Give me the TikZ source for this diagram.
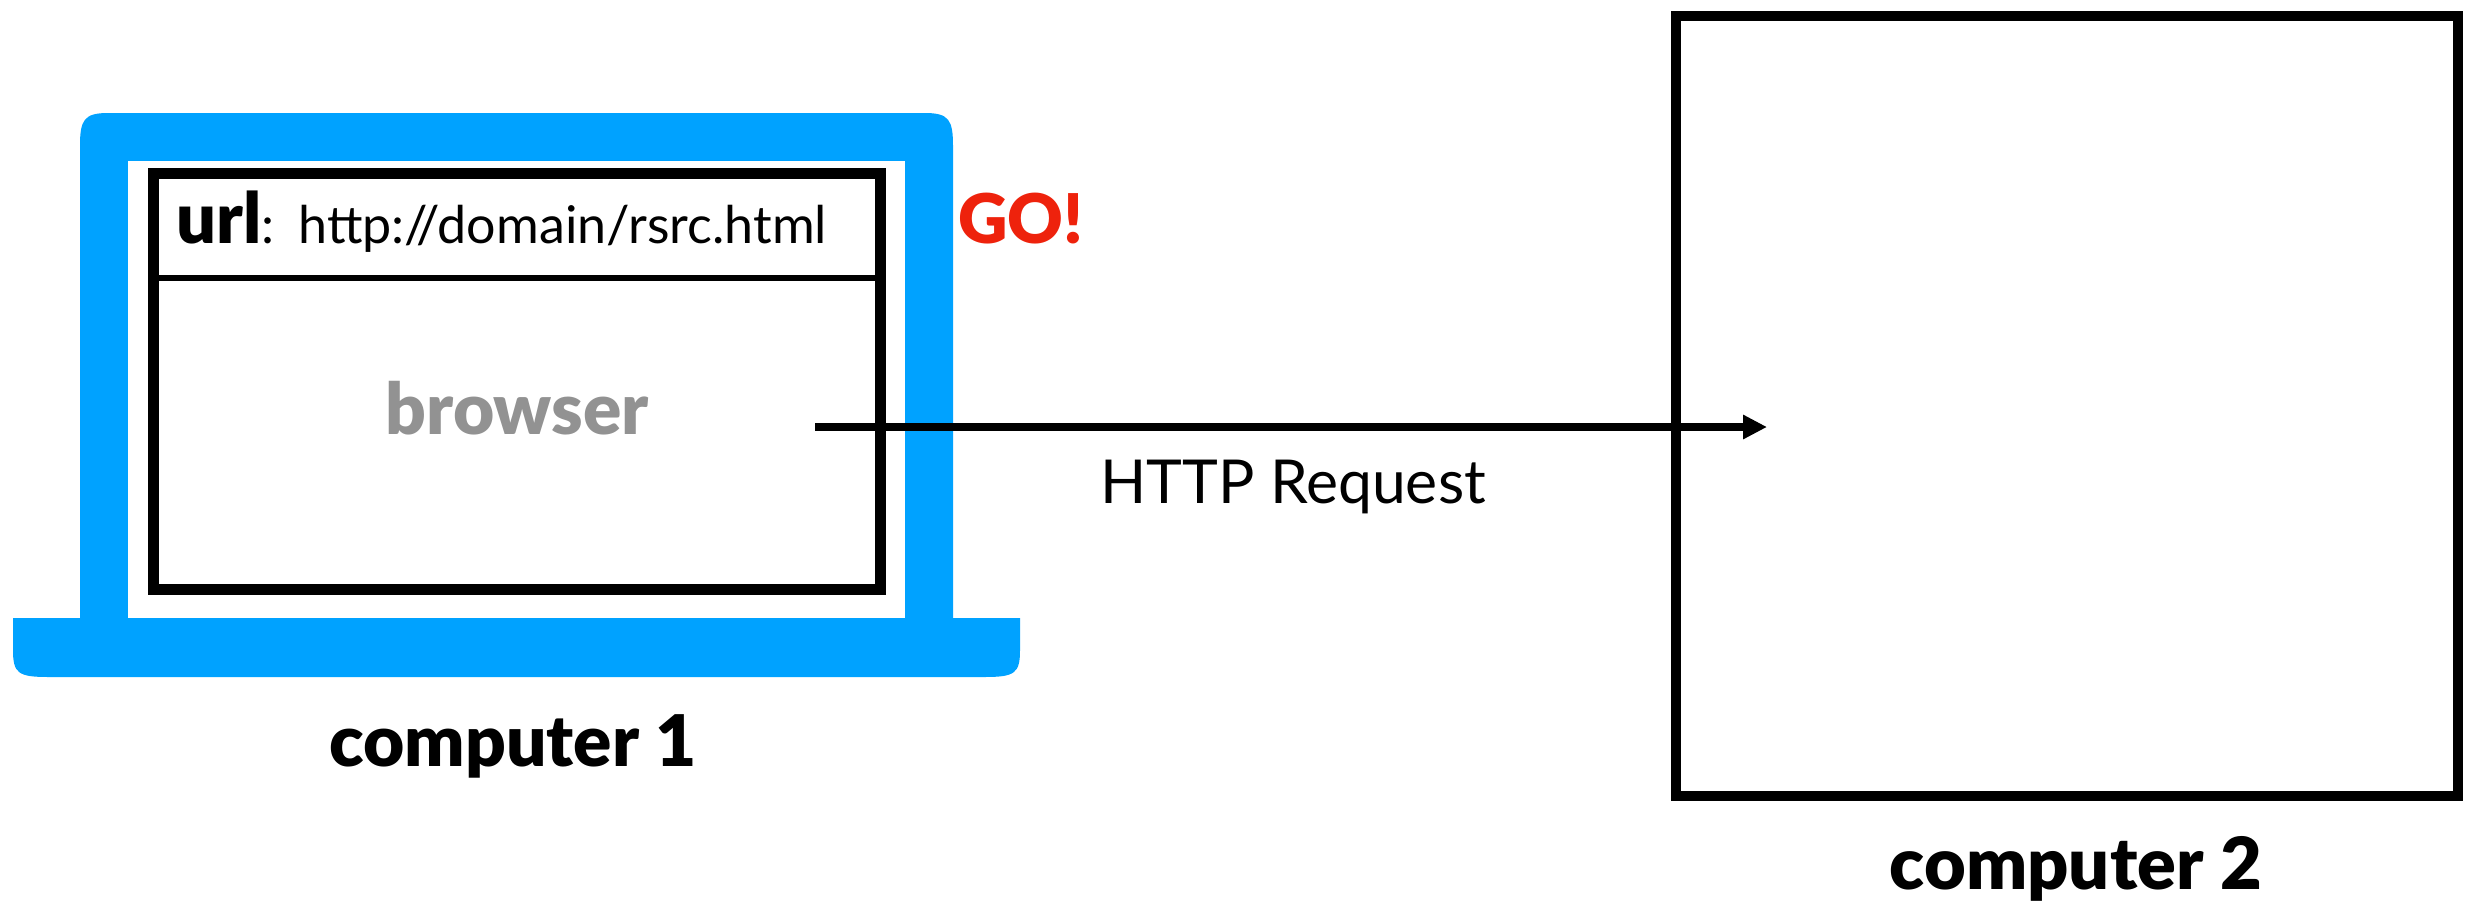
\documentclass[tikz,border=0pt]{standalone}
\usepackage{fontspec}
\usepackage{xcolor}
\usetikzlibrary{arrows.meta,positioning}
\setmainfont{Lato}
\newfontfamily\heavyfont{Lato Black}
\definecolor{laptopblue}{HTML}{00A2FF}
\definecolor{goRed}{HTML}{EE220C}
\definecolor{browserGray}{HTML}{929292}

\begin{document}
\begin{tikzpicture}[
    x = 0.02cm, y = -0.02cm,
    every node/.style = {align=center, inner sep=0pt},
    frame/.style = {draw=black, rectangle, line width=2.2mm, minimum width=14.54cm, minimum height=8.32cm},
    server/.style = {draw=black, rectangle, line width=2mm, minimum width=15.64cm, minimum height=15.6cm},
    >={Triangle[length=4.8mm,width=4.6mm]}
  ]
  \useasboundingbox (0,0) rectangle (2468,903);

  % laptop
  \fill[laptopblue] (80,640) -- (80,146) .. controls (80,120) and (84,113) .. (108,113)
    -- (925,113) .. controls (949,113) and (953,120) .. (953,146) -- (953,640) -- cycle;
  \fill[white] (128,161) rectangle (905,640);
  \fill[laptopblue] (13,618) -- (1020,618) -- (1020,650) .. controls (1020,673) and (1015,677) .. (985,677)
    -- (48,677) .. controls (18,677) and (13,673) .. (13,650) -- cycle;

  \node[frame] (screen) at (517,381.5) {};
  \node[anchor=base west, font=\fontsize{29.6}{30}\selectfont] (url) at (176,243)
    {\fontsize{40}{40}\heavyfont url\fontsize{29.6}{30}\normalfont:\hspace{3.5pt} http://domain/rsrc.html};
  \draw[line width=1.1mm] (screen.west |- 0,278) -- (screen.east |- 0,278);
  \node[font=\fontsize{40.5}{41}\heavyfont, text=browserGray] (browser) at (517,408) {browser};
  \node[font=\fontsize{39}{39}\heavyfont, text=goRed, anchor=base west] (go) at (958,243) {GO!};
  \node[font=\fontsize{40.5}{41}\heavyfont] (pc1) at (513,746) {computer 1};

  % server
  \node[server] (pc2) at (2067,406) {};
  \node[font=\fontsize{41}{41}\heavyfont] (pc2label) at (2076,869) {computer 2};

  \coordinate (start) at (815,427);
  \coordinate (stop) at (1767,427);
  \draw[->, line width=1.6mm] (start) -- (stop);
  \node[font=\fontsize{34.5}{35}\selectfont] (req) at (1293,487) {HTTP Request};

\end{tikzpicture}
\end{document}
